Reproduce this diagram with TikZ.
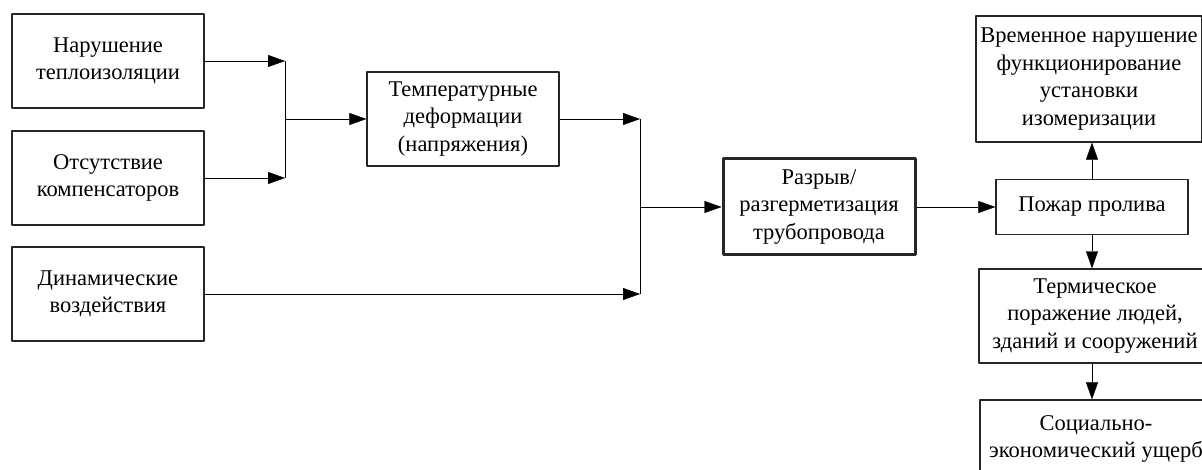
\documentclass[tikz,border=0pt]{standalone}
\usepackage{fontspec}
\setmainfont{Liberation Serif}
\usetikzlibrary{arrows.meta}
\tikzset{
  block/.style={draw=black!85,line width=1.3pt,align=center,inner sep=0pt,
    minimum width=192pt,minimum height=94pt,font=\fontsize{22.5}{27.5}\selectfont},
  mainblock/.style={block,line width=3pt,minimum height=96pt},
  wideblock/.style={block,minimum width=232pt},
}
\begin{document}
\begin{tikzpicture}[x=1pt,y=-1pt,>={Triangle[length=17pt,width=12pt]},line join=bevel,]
\useasboundingbox (0,0) rectangle (1202,470);
%%
  \node (node_0) at (108,61) [block] {Нарушение\\теплоизоляции};
  \node (node_1) at (108,178) [block] {Отсутствие\\компенсаторов};
  \node (node_2) at (108,294) [block] {Динамические\\воздействия};
  \node (node_3) at (463,119) [block] {Температурные\\деформации\\(напряжения)};
  \node (node_4) at (819,207) [mainblock] {Разрыв/\\разгерметизация\\трубопровода};
  \node (node_5) at (1092,207) [block,minimum height=55pt] {Пожар пролива};
  \node (node_6) at (1089,79) [wideblock,minimum width=226pt,minimum height=126pt] {Временное нарушение\\функционирование\\установки\\изомеризации};
  \node (node_7) at (1095,316) [wideblock] {Термическое\\поражение людей,\\зданий и сооружений};
  \node (node_8) at (1096,439) [wideblock,minimum height=78pt] {Социально-\\экономический ущерб};

  \coordinate (join_a) at (285,119);
  \coordinate (join_b) at (640,207);

  \draw [black,->] (node_0.east) -- (node_0.east -| join_a);
  \draw [black,->] (node_1.east) -- (node_1.east -| join_a);
  \draw [black] (join_a |- node_0) -- (join_a |- node_1);
  \draw [black,->] (join_a) -- (node_3);

  \draw [black,->] (node_3.east) -- (node_3.east -| join_b);
  \draw [black,->] (node_2.east) -- (node_2.east -| join_b);
  \draw [black] (join_b |- node_3) -- (join_b |- node_2);
  \draw [black,->] (join_b) -- (node_4);

  \draw [black,->] (node_4) edge (node_5);
  \draw [black,->] (node_5.north) -- (node_5.north |- node_6.south);
  \draw [black,->] (node_5.south) -- (node_5.south |- node_7.north);
  \draw [black,->] (node_7.south -| node_5) -- (node_5 |- node_8.north);

\end{tikzpicture}
\end{document}
